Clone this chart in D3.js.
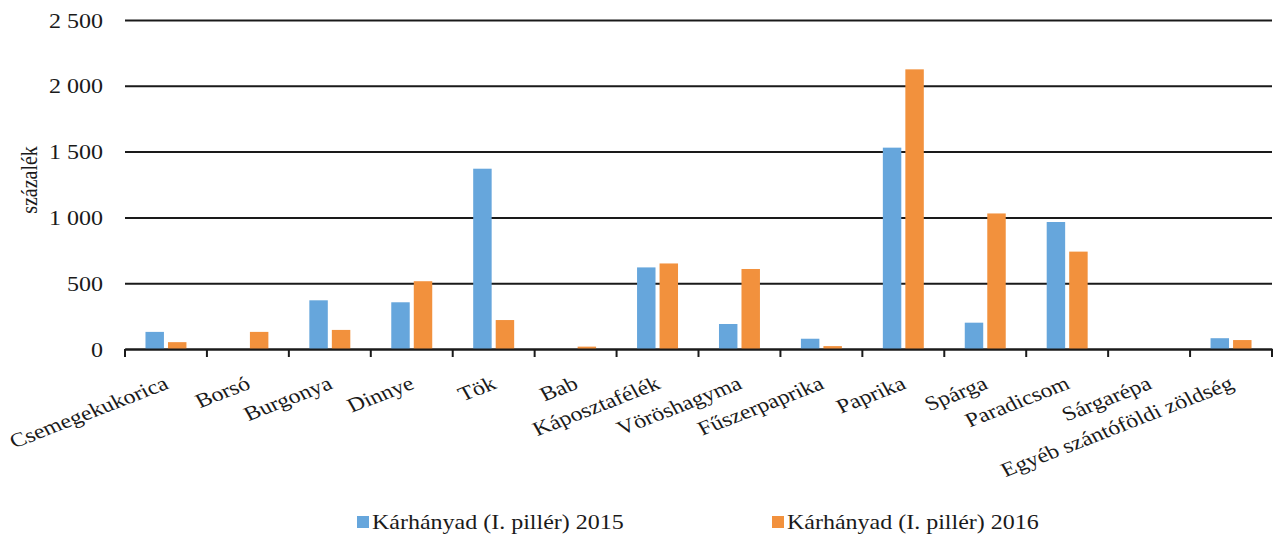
<!DOCTYPE html>
<html>
<head>
<meta charset="utf-8">
<script src="https://cdn.jsdelivr.net/npm/d3@7"></script>
<style>
  html, body { margin: 0; padding: 0; background: #fff; }
  svg { display: block; }
  text { font-family: "Liberation Serif", "Times New Roman", serif; fill: #1a1a1a; }
</style>
</head>
<body>
<div class="chart"></div>
<script>
'use strict';

var categories = ["Csemegekukorica", "Borsó", "Burgonya", "Dinnye", "Tök", "Bab",
    "Káposztafélék", "Vöröshagyma", "Fűszerpaprika", "Paprika", "Spárga",
    "Paradicsom", "Sárgarépa", "Egyéb szántóföldi zöldség"];
var values2015 = [130, 0, 370, 355, 1370, 0, 620, 190, 78, 1530, 200, 965, 0, 82];
var values2016 = [52, 130, 145, 515, 220, 18, 650, 608, 22, 2125, 1030, 740, 0, 68];
var seriesNames = ["Kárhányad (I. pillér) 2015", "Kárhányad (I. pillér) 2016"];
var seriesColors = ["#66a6dc", "#f2913d"];
var yTicks = [0, 500, 1000, 1500, 2000, 2500];
var yTickLabels = ["0", "500", "1 000", "1 500", "2 000", "2 500"];
var yTitle = "százalék";

var width = 1280, height = 536;
// the source picture is stretched sideways, so the text is too
var sx = 1.2;
var plotLeft = 125, plotRight = 1272, plotTop = 20, plotBottom = 349;

var svg = d3.select("div.chart")
    .append("svg")
    .attr("width", width)
    .attr("height", height);

var x = d3.scaleBand().domain(categories).range([plotLeft, plotRight]).padding(0);
var x1 = d3.scaleBand().domain([0, 1]).range([0, x.bandwidth()])
    .paddingInner(0.18).paddingOuter(0.91);
var y = d3.scaleLinear().domain([0, 2500]).range([plotBottom, plotTop]);

// y axis with gridlines
var yAxis = svg.append("g")
    .attr("transform", "translate(" + plotLeft + ",0)")
    .call(d3.axisLeft(y).tickValues(yTicks).tickSize(-(plotRight - plotLeft))
        .tickFormat(function(d, i) { return yTickLabels[i]; }));
yAxis.select(".domain").remove();
yAxis.selectAll(".tick line").attr("stroke", "#1a1a1a").attr("stroke-width", 2);
yAxis.selectAll(".tick text")
    .attr("x", null).attr("dy", null)
    .attr("text-anchor", "end")
    .attr("transform", "translate(-22,7) scale(" + sx + ",1)")
    .style("font-size", "20px");

// bars
var series = [values2015, values2016];
series.forEach(function(vals, s) {
    svg.append("g").selectAll("rect")
        .data(vals)
        .enter()
        .append("rect")
        .attr("x", function(d, i) { return x(categories[i]) + x1(s); })
        .attr("y", function(d) { return y(d); })
        .attr("width", x1.bandwidth())
        .attr("height", function(d) { return plotBottom - y(d); })
        .attr("fill", seriesColors[s]);
});

// x axis, labels centred in each band
var xAxis = svg.append("g")
    .attr("transform", "translate(0," + plotBottom + ")")
    .call(d3.axisBottom(x).tickSize(0).tickSizeOuter(0));
xAxis.select(".domain").attr("stroke", "#1a1a1a").attr("stroke-width", 2);
xAxis.selectAll(".tick text")
    .attr("y", null).attr("dy", null)
    .attr("text-anchor", "end")
    .attr("transform", "translate(4,39) scale(" + sx + ",1) rotate(-25)")
    .style("font-size", "20px");

// tick marks sit between the categories
var bounds = categories.map(function(c) { return x(c); }).concat([plotRight]);
svg.append("g").selectAll("line")
    .data(bounds)
    .enter()
    .append("line")
    .attr("x1", function(d) { return d; })
    .attr("x2", function(d) { return d; })
    .attr("y1", plotBottom)
    .attr("y2", plotBottom + 8)
    .attr("stroke", "#1a1a1a")
    .attr("stroke-width", 2);

// y title
svg.append("text")
    .attr("text-anchor", "middle")
    .attr("transform", "translate(37,180) scale(" + sx + ",1) rotate(-90)")
    .style("font-size", "20px")
    .text(yTitle);

// legend
var legendX = [357, 772];
var legend = svg.append("g").selectAll("g")
    .data(seriesNames)
    .enter()
    .append("g")
    .attr("transform", function(d, i) { return "translate(" + legendX[i] + ",516)"; });
legend.append("rect")
    .attr("width", 12).attr("height", 12)
    .attr("fill", function(d, i) { return seriesColors[i]; });
legend.append("text")
    .attr("transform", "translate(15,13) scale(" + sx + ",1)")
    .style("font-size", "20px")
    .text(function(d) { return d; });
</script>
</body>
</html>
